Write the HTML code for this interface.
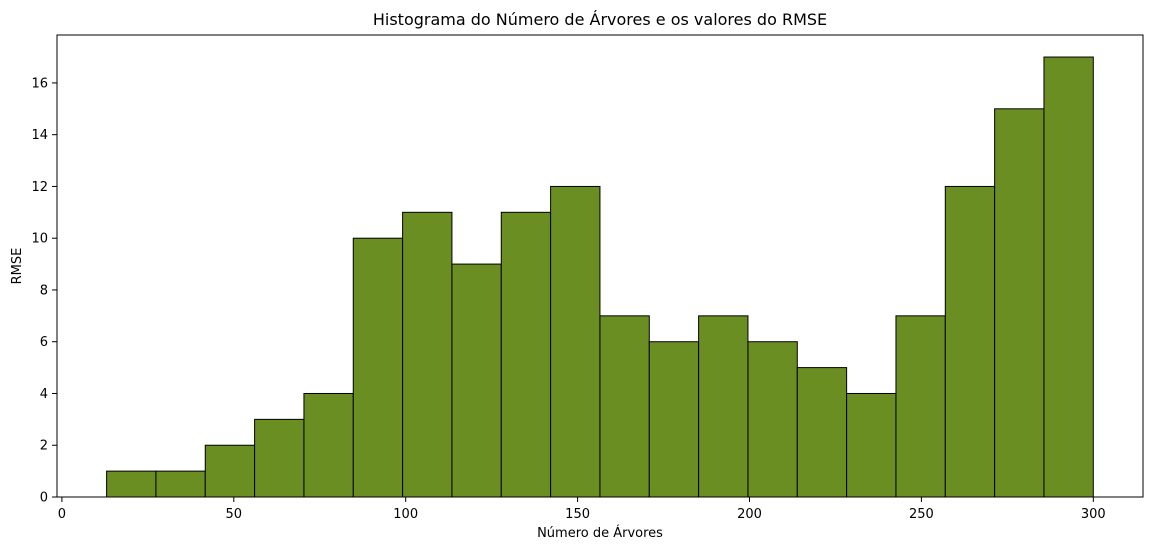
<!DOCTYPE html>
<html><head><meta charset="utf-8"><style>
body{margin:0;background:#fff;}
svg text{font-family:"DejaVu Sans","Liberation Sans",sans-serif;}
</style></head><body>
<svg id="chart" width="1152" height="550" xmlns="http://www.w3.org/2000/svg">
<text x="600" y="25" font-size="16" text-anchor="middle" fill="#000">Histograma do Número de Árvores e os valores do RMSE</text>
<g id="bars"></g>
<rect x="57" y="35" width="1086" height="462" fill="none" stroke="#000" stroke-width="1"/>
<g id="xt"></g>
<g id="yt"></g>
<text x="600" y="537" font-size="13" text-anchor="middle">Número de Árvores</text>
<text x="21" y="266" font-size="13" text-anchor="middle" transform="rotate(-90 21 266)">RMSE</text>
</svg>
<script>
const binStart = 13;
const binEnd = 300;
const counts = [1,1,2,3,4,10,11,9,11,12,7,6,7,6,5,4,7,12,15,17];
const xTicks = [0,50,100,150,200,250,300];
const yTicks = [0,2,4,6,8,10,12,14,16];

const NS="http://www.w3.org/2000/svg";
const X = v => 61.9 + (v)*3.438;
const Y = v => 497 - v*25.88;
const bars=document.getElementById('bars');
const w=(binEnd-binStart)/counts.length;
counts.forEach((c,i)=>{
  const r=document.createElementNS(NS,'rect');
  const x0=X(binStart+i*w), x1=X(binStart+(i+1)*w);
  r.setAttribute('x',x0);r.setAttribute('width',x1-x0);
  r.setAttribute('y',Y(c));r.setAttribute('height',Y(0)-Y(c));
  r.setAttribute('fill','#6b8e23');r.setAttribute('stroke','#000');r.setAttribute('stroke-width','1');
  
  
  bars.appendChild(r);
});
const xt=document.getElementById('xt');
xTicks.forEach(t=>{
  const l=document.createElementNS(NS,'line');
  l.setAttribute('x1',X(t));l.setAttribute('x2',X(t));l.setAttribute('y1',497);l.setAttribute('y2',502);l.setAttribute('stroke','#000');
  
  
  xt.appendChild(l);
  const tx=document.createElementNS(NS,'text');
  tx.setAttribute('x',X(t));tx.setAttribute('y',518);tx.setAttribute('font-size','13');tx.setAttribute('text-anchor','middle');
  tx.textContent=t;
  
  
  xt.appendChild(tx);
});
const yt=document.getElementById('yt');
yTicks.forEach(t=>{
  const l=document.createElementNS(NS,'line');
  l.setAttribute('x1',52);l.setAttribute('x2',57);l.setAttribute('y1',Y(t));l.setAttribute('y2',Y(t));l.setAttribute('stroke','#000');
  
  
  yt.appendChild(l);
  const tx=document.createElementNS(NS,'text');
  tx.setAttribute('x',48);tx.setAttribute('y',Y(t)+4.5);tx.setAttribute('font-size','13');tx.setAttribute('text-anchor','end');
  tx.textContent=t;
  
  
  yt.appendChild(tx);
});
</script>
</body></html>
